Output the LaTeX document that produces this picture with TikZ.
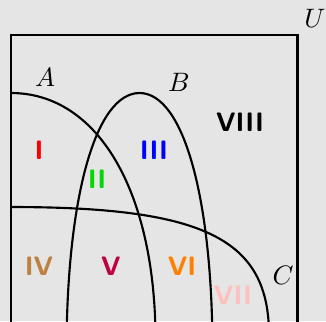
\documentclass[tikz,border=0pt]{standalone}
\begin{document}
\begin{tikzpicture}[x=0.375pt,y=-0.375pt,
  curve/.style={line width=0.8pt},
  lbl/.style={font=\sffamily\bfseries, inner sep=0pt},
  setname/.style={inner sep=0pt}]
\fill[gray!20] (0,0) rectangle (326,321);
\useasboundingbox (0,0) rectangle (326,321);
\begin{scope}
\clip (0,0) rectangle (326,321);
\draw[curve] (11,340) -- (11,35) -- (297.5,35) -- (297.5,340);
\draw[curve] (11,93) .. controls (98,93) and (155.5,191.8) .. (155.5,340);
\draw[curve] (66.5,353) .. controls (66.5,197) and (95.7,93) .. (139.5,93) .. controls (183.3,93) and (212.5,197) .. (212.5,353);
\draw[curve] (11,207) .. controls (204.5,207) and (269,239) .. (269,335) -- (269,345);
\end{scope}
\node[setname] (u) at (315,18) {$U$};
\node[setname] (a) at (45,77) {$A$};
\node[setname] (b) at (179,82) {$B$};
\node[setname] (c) at (283,275) {$C$};
\node[lbl, text=red] (r1) at (39,150) {I};
\node[lbl, text=green!85!black] (r2) at (97,179) {II};
\node[lbl, text=blue] (r3) at (154,150) {III};
\node[lbl, text=brown] (r4) at (39,266) {IV};
\node[lbl, text=purple] (r5) at (111,266) {V};
\node[lbl, text=orange] (r6) at (182,266) {VI};
\node[lbl, text=pink] (r7) at (233,295) {VII};
\node[lbl, text=black] (r8) at (240,122) {VIII};
\end{tikzpicture}
\end{document}
